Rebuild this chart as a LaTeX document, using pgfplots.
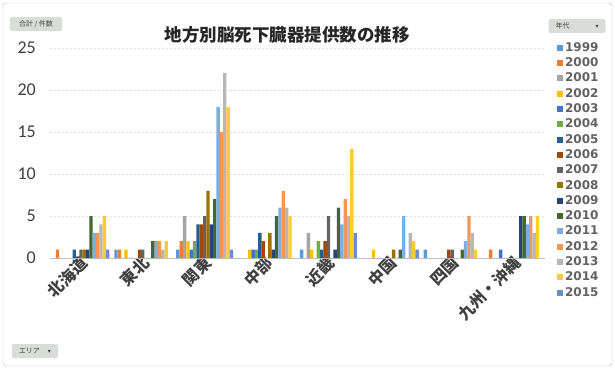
\documentclass[border=0pt]{standalone}
\usepackage{pgfplots}
\pgfplotsset{compat=1.18}
\usepackage{fontspec}
\setmainfont{Carlito}
\newfontfamily\cjk{Noto Sans CJK JP}
\newfontfamily\dejavu{DejaVu Sans}
\definecolor{c1999}{HTML}{5B9BD5}
\definecolor{c2000}{HTML}{ED7D31}
\definecolor{c2001}{HTML}{A5A5A5}
\definecolor{c2002}{HTML}{FFC000}
\definecolor{c2003}{HTML}{4472C4}
\definecolor{c2004}{HTML}{70AD47}
\definecolor{c2005}{HTML}{255E91}
\definecolor{c2006}{HTML}{9E480E}
\definecolor{c2007}{HTML}{636363}
\definecolor{c2008}{HTML}{997300}
\definecolor{c2009}{HTML}{264478}
\definecolor{c2010}{HTML}{43682B}
\definecolor{c2011}{HTML}{7CAFDD}
\definecolor{c2012}{HTML}{F1975A}
\definecolor{c2013}{HTML}{B7B7B7}
\definecolor{c2014}{HTML}{FFCD33}
\definecolor{c2015}{HTML}{698ED0}
\definecolor{txt}{HTML}{404040}
\definecolor{btn}{HTML}{D9DDD9}
\begin{document}
\begin{tikzpicture}[x=1pt,y=1pt]
\useasboundingbox (0,0) rectangle (615,372);
\draw[gray!55, rounded corners=3pt] (3,6) rectangle (612,369);
% title
\node[font=\cjk\bfseries\fontsize{17.5}{17.5}\selectfont, text=black!85] at (287,337) {地方別脳死下臓器提供数の推移};
% field buttons
\node[fill=btn, rounded corners=2pt, font=\cjk\fontsize{7}{7}\selectfont, text=txt, minimum width=52pt, minimum height=14pt, inner sep=1pt] at (36,348) {合計 / 件数};
\node[fill=btn, rounded corners=2pt, font=\cjk\fontsize{7}{7}\selectfont, text=txt, minimum width=57pt, minimum height=14pt, inner sep=1pt] at (577,346) {年代\hspace{26pt}{\dejavu\fontsize{6}{6}\selectfont ▾}};
\node[fill=btn, rounded corners=2pt, font=\cjk\fontsize{7}{7}\selectfont, text=txt, minimum width=46pt, minimum height=14pt, inner sep=1pt] at (35,21) {エリア\hspace{8pt}{\dejavu\fontsize{6}{6}\selectfont ▾}};
\begin{axis}[
  at={(50pt,114pt)}, anchor=south west,
  width=495pt, height=210pt, scale only axis,
  ybar=0pt, bar width=3.35pt,
  xmin=-0.5, xmax=7.5, ymin=0, ymax=25,
  xtick={0,...,7},
  xticklabels={北海道,東北,関東,中部,近畿,中国,四国,九州・沖縄},
  x tick label style={rotate=45, anchor=east, font=\cjk\bfseries\fontsize{16}{16}\selectfont, text=txt, inner sep=1pt, yshift=-4pt, xshift=2pt},
  ytick={0,5,...,25},
  /pgf/number format/assume math mode=true,
  yticklabel style={font=\fontsize{18}{18}\selectfont, text=txt, inner sep=0pt, xshift=-14pt},
  major tick length=0pt,
  axis line style={draw=none},
  ymajorgrids, major grid style={gray!25, dash pattern=on 2pt off 2pt},
  every axis plot/.append style={draw=none},
  legend cell align=left,
  legend style={at={(1.018,1.048)}, anchor=north west, draw=none, fill=none,
    font=\dejavu\bfseries\fontsize{12}{12}\selectfont, text=black!62,
    row sep=0pt,
    nodes={inner ysep=1.9pt, inner xsep=2pt, text height=9.3pt, text depth=2.2pt}},
  legend image code/.code={\fill[#1] (0pt,-3pt) rectangle (6pt,3pt);},
]
\draw[gray!50] (axis cs:-0.5,0) -- (axis cs:7.5,0);
\addplot[fill=c1999] coordinates {(1,1) (2,1) (4,1) (6,1)};
\addplot[fill=c2000] coordinates {(0,1) (1,1) (2,2) (7,1)};
\addplot[fill=c2001] coordinates {(2,5) (4,3)};
\addplot[fill=c2002] coordinates {(1,1) (2,2) (3,1) (4,1) (5,1)};
\addplot[fill=c2003] coordinates {(2,1) (3,1) (7,1)};
\addplot[fill=c2004] coordinates {(2,2) (3,1) (4,2)};
\addplot[fill=c2005] coordinates {(0,1) (2,4) (3,3) (4,1)};
\addplot[fill=c2006] coordinates {(1,1) (2,4) (3,2) (4,2) (6,1)};
\addplot[fill=c2007] coordinates {(0,1) (1,1) (2,5) (4,5) (6,1)};
\addplot[fill=c2008] coordinates {(0,1) (2,8) (3,3) (5,1)};
\addplot[fill=c2009] coordinates {(0,1) (2,4) (3,1) (4,1) (7,5)};
\addplot[fill=c2010] coordinates {(0,5) (1,2) (2,7) (3,5) (4,6) (5,1) (6,1) (7,5)};
\addplot[fill=c2011] coordinates {(0,3) (1,2) (2,18) (3,6) (4,4) (5,5) (6,2) (7,4)};
\addplot[fill=c2012] coordinates {(0,3) (1,2) (2,15) (3,8) (4,7) (6,5) (7,5)};
\addplot[fill=c2013] coordinates {(0,4) (1,1) (2,22) (3,6) (4,5) (5,3) (6,3) (7,3)};
\addplot[fill=c2014] coordinates {(0,5) (1,2) (2,18) (3,5) (4,13) (5,2) (6,1) (7,5)};
\addplot[fill=c2015] coordinates {(0,1) (2,1) (4,3) (5,1)};
\legend{1999,2000,2001,2002,2003,2004,2005,2006,2007,2008,2009,2010,2011,2012,2013,2014,2015}
\end{axis}
\end{tikzpicture}
\end{document}
